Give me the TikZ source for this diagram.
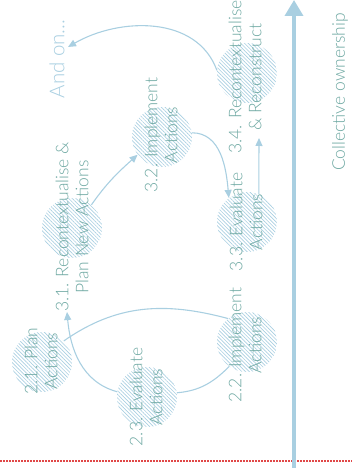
\documentclass[tikz,border=0pt]{standalone}
\usepackage{fontspec}
\setmainfont{Lato Light}
\usetikzlibrary{arrows.meta,patterns.meta}
\definecolor{lblue}{HTML}{A9CFE1}
\definecolor{tealtxt}{HTML}{6EA8A2}
\definecolor{dotred}{HTML}{E04848}
\begin{document}
\begin{tikzpicture}[x=1pt,y=1pt,
  hatch/.style={circle, minimum size=60pt, inner sep=0pt,
    pattern={Lines[angle=-45,distance=2.6pt,line width=0.65pt]}, pattern color=lblue},
  lbl/.style={rotate=90, align=center, text=tealtxt,
    font=\fontsize{17.5}{20}\selectfont, inner sep=0pt},
  conn/.style={draw=lblue, line width=1.1pt},
  arr/.style={conn, -{Triangle[length=8pt,width=7pt]}},
  axis/.style={draw=lblue, line width=3.5pt, -{Triangle[length=16pt,width=18pt]}},
  redline/.style={draw=dotred, line width=1.3pt, dash pattern=on 1.6pt off 1.4pt}]
\useasboundingbox (0,0) rectangle (361,468);
% red dotted line
\coordinate (rl) at (0,7);
\coordinate (rr) at (352,7);
\draw[redline] (rl) -- (rr);
% main axis
\coordinate (vb) at (294,0);
\coordinate (vt) at (294,468);
\draw[axis] (vb) -- (vt);
% circles
\node[hatch] (c21) at (42,106) {};
\node[hatch] (c23) at (147,71) {};
\node[hatch] (c22) at (247,126) {};
\node[hatch] (c31) at (72,240) {};
\node[hatch] (c32) at (162,331) {};
\node[hatch] (c33) at (247,246) {};
\node[hatch] (c34) at (247,395) {};
% free ends
\coordinate (a31) at (67,156);
\coordinate (a34) at (259,330);
\coordinate (aon) at (68,421);
% connectors
\draw[conn] (c21.44) to[out=35,in=165] (c22.129);
\draw[conn] (c22.234) to[out=225,in=5] (c23.8);
\draw[arr] (c23.170) to[out=165,in=-85] (a31);
\draw[arr] (c31.50) to[out=55,in=222] (c32.216);
\draw[arr] (c32.8) to[out=0,in=95] (c33.127);
\draw[arr] (c33.67) -- (a34);
\draw[arr] (c34.175) to[out=110,in=30] (aon);
% labels
\node[lbl] (t21) at (41,107) {2.1. Plan\\Actions};
\node[lbl] (t23) at (146,71) {2.3. Evaluate\\Actions};
\node[lbl] (t22) at (245,123) {2.2. Implement\\Actions};
\node[lbl] (t31) at (72,241) {3.1. Recontextualise \&\\Plan New Actions};
\node[lbl] (t32) at (161,333) {3.2. Implement\\Actions};
\node[lbl] (t33) at (246,246) {3.3. Evaluate\\Actions};
\node[lbl] (t34) at (245,391) {3.4. Recontextualise\\\& Reconstruct};
\node[rotate=90, text=lblue, font=\fontsize{20.5}{24}\selectfont, inner sep=0pt] (andon) at (57,409) {And on...};
\node[rotate=90, text=tealtxt, font=\fontsize{17.5}{20}\selectfont, inner sep=0pt] (coll) at (340,376) {Collective ownership};
\end{tikzpicture}
\end{document}
